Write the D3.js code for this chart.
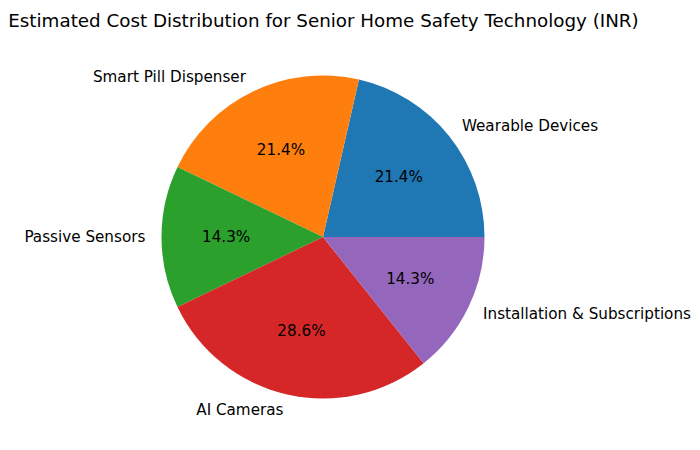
<!DOCTYPE html>
<html>
<head>
<meta charset="utf-8">
<script src="https://cdn.jsdelivr.net/npm/d3@7"></script>
<style>
  html, body { margin: 0; padding: 0; background: #fff; }
  text { font-family: "DejaVu Sans", sans-serif; }
</style>
</head>
<body>
<svg id="chart" width="700" height="450"></svg>
<script>
const categories = ["Wearable Devices", "Smart Pill Dispenser", "Passive Sensors", "AI Cameras", "Installation & Subscriptions"];
const costs = [15000, 15000, 10000, 20000, 10000];
const colors = ["#1f77b4", "#ff7f0e", "#2ca02c", "#d62728", "#9467bd"];
const title = "Estimated Cost Distribution for Senior Home Safety Technology (INR)";

const svg = d3.select("#chart");
const cx = 323, cy = 237, r = 161.5;

const data = categories.map((c, i) => ({ name: c, value: costs[i], color: colors[i] }));
const total = d3.sum(costs);

const pie = d3.pie().value(d => d.value).sort(null)
  .startAngle(Math.PI / 2).endAngle(Math.PI / 2 - 2 * Math.PI);
const arcs = pie(data);

const arc = d3.arc().innerRadius(0).outerRadius(r);
const labelArc = d3.arc().innerRadius(r * 1.1).outerRadius(r * 1.1);
const pctArc = d3.arc().innerRadius(r * 0.6).outerRadius(r * 0.6);

const g = svg.append("g").attr("transform", `translate(${cx},${cy})`);

g.selectAll("path.slice").data(arcs).enter().append("path")
  .attr("class", "slice")
  .attr("d", arc)
  .attr("fill", d => d.data.color);

g.selectAll("text.pct").data(arcs).enter().append("text")
  .attr("class", "pct")
  .attr("x", d => pctArc.centroid(d)[0])
  .attr("y", d => pctArc.centroid(d)[1])
  .attr("text-anchor", "middle")
  .attr("dominant-baseline", "central")
  .attr("font-size", "15.2px")
  .attr("fill", "#000")
  .text(d => (d.data.value / total * 100).toFixed(1) + "%");

g.selectAll("text.lbl").data(arcs).enter().append("text")
  .attr("class", "lbl")
  .attr("x", d => labelArc.centroid(d)[0])
  .attr("y", d => labelArc.centroid(d)[1])
  .attr("text-anchor", d => labelArc.centroid(d)[0] >= 0 ? "start" : "end")
  .attr("dominant-baseline", "central")
  .attr("font-size", "15.2px")
  .attr("fill", "#000")
  .text(d => d.data.name);

svg.append("text")
  .attr("x", 323.5)
  .attr("y", 27)
  .attr("text-anchor", "middle")
  .attr("font-size", "18.3px")
  .attr("fill", "#000")
  .text(title);
</script>
</body>
</html>
